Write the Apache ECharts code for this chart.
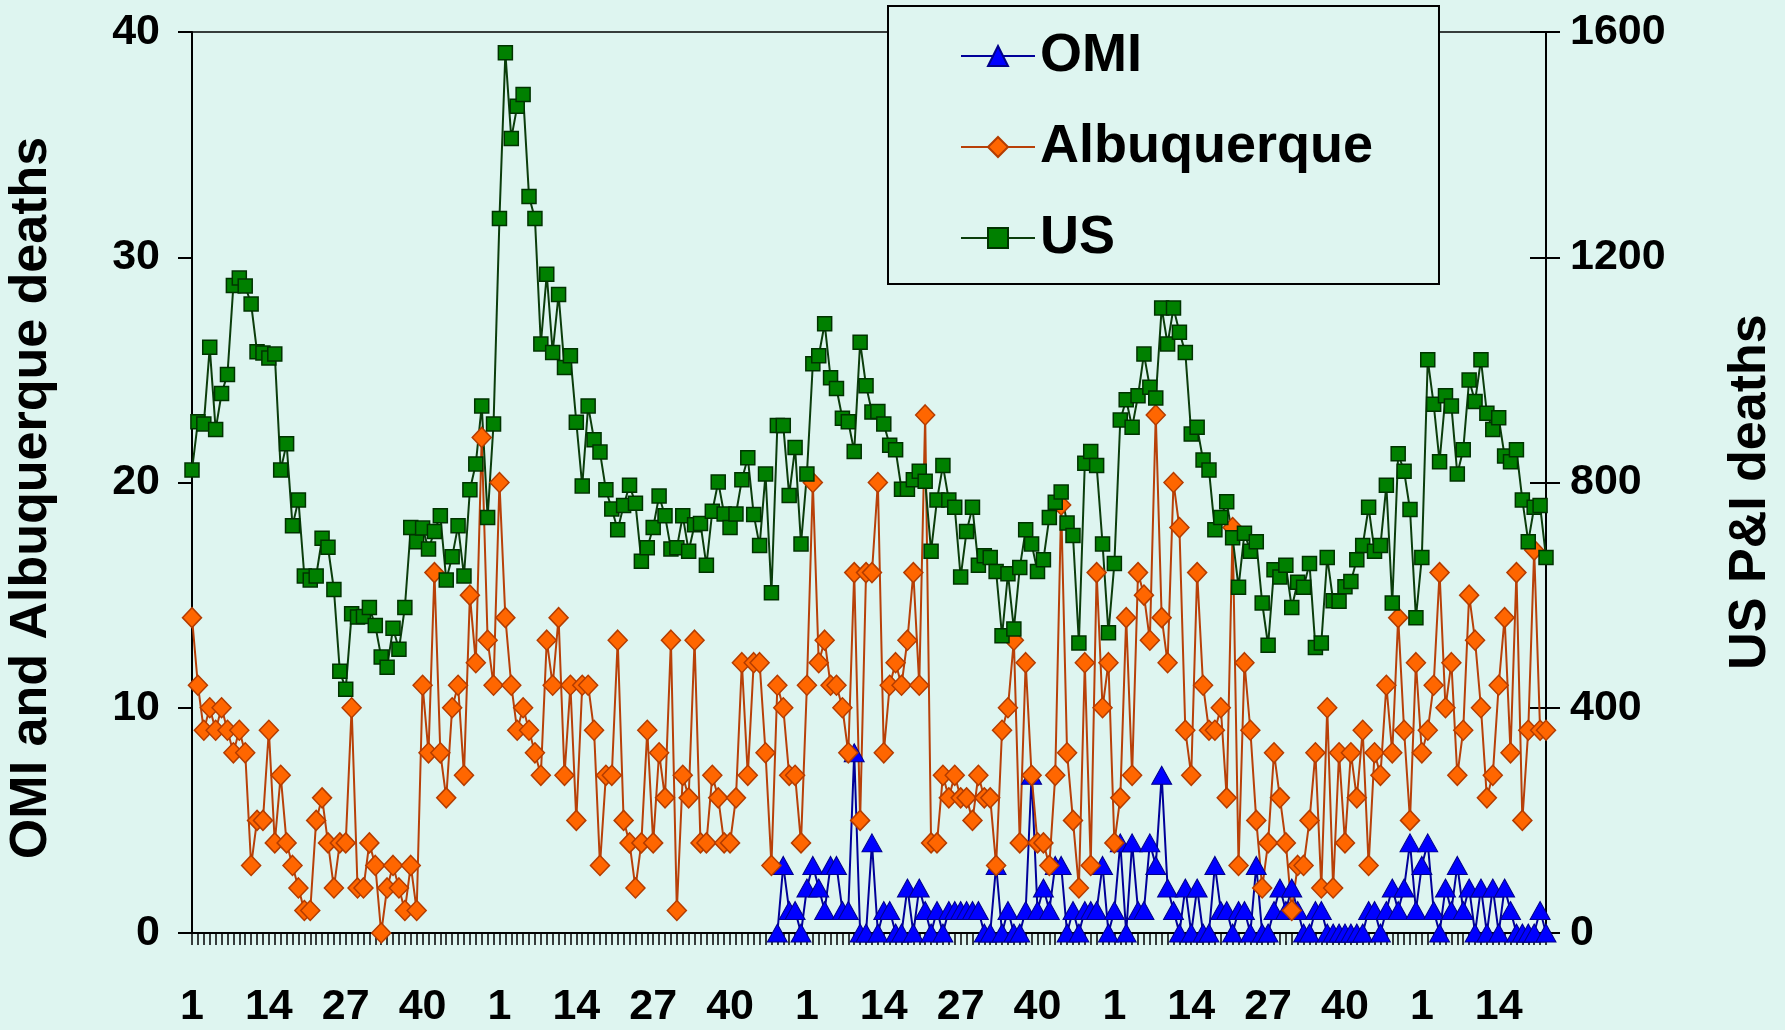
<!DOCTYPE html>
<html>
<head>
<meta charset="utf-8">
<title>OMI, Albuquerque and US P&amp;I deaths by week</title>
<script src="https://cdn.jsdelivr.net/npm/echarts/dist/echarts.min.js"></script>
<style>
  html, body { margin: 0; padding: 0; background: #def5f0; }
  #chart { width: 1785px; height: 1030px; }
</style>
</head>
<body>
<div id="chart"></div>
<script>
// Week-of-year labels: four full 52-week seasons followed by weeks 1-22.
const weekLabels = [
  1,2,3,4,5,6,7,8,9,10,11,12,13,14,15,16,17,18,19,20,21,22,23,24,25,26,27,28,29,30,31,32,33,34,35,36,37,38,39,40,41,42,43,44,45,46,47,48,49,50,51,52,
  1,2,3,4,5,6,7,8,9,10,11,12,13,14,15,16,17,18,19,20,21,22,23,24,25,26,27,28,29,30,31,32,33,34,35,36,37,38,39,40,41,42,43,44,45,46,47,48,49,50,51,52,
  1,2,3,4,5,6,7,8,9,10,11,12,13,14,15,16,17,18,19,20,21,22,23,24,25,26,27,28,29,30,31,32,33,34,35,36,37,38,39,40,41,42,43,44,45,46,47,48,49,50,51,52,
  1,2,3,4,5,6,7,8,9,10,11,12,13,14,15,16,17,18,19,20,21,22,23,24,25,26,27,28,29,30,31,32,33,34,35,36,37,38,39,40,41,42,43,44,45,46,47,48,49,50,51,52,
  1,2,3,4,5,6,7,8,9,10,11,12,13,14,15,16,17,18,19,20,21,22
].map(String);

// Weekly OMI deaths; reporting begins at the week with index omiFirstIndex.
const omiFirstIndex = 99;
const omiDeaths = [
  0,3,1,1,0,2,3,2,1,3,
  3,1,1,8,0,0,4,0,1,1,
  0,0,2,0,2,1,0,1,0,1,
  1,1,1,1,1,0,0,3,0,1,
  0,0,1,7,1,2,1,3,3,0,
  1,0,1,1,1,3,0,1,4,0,
  4,1,1,4,3,7,2,1,0,2,
  0,2,0,0,3,1,1,0,1,1,
  0,3,0,0,1,2,1,2,1,0,
  0,1,1,0,0,0,0,0,0,0,
  1,1,0,1,2,1,2,4,1,3,
  4,1,0,2,1,3,1,2,0,2,
  0,2,0,2,1,0,0,0,0,1,
  0
];

// Weekly Albuquerque P&I deaths.
const albuquerqueDeaths = [
  14,11,9,10,9,10,9,8,9,8,
  3,5,5,9,4,7,4,3,2,1,
  1,5,6,4,2,4,4,10,2,2,
  4,3,0,2,3,2,1,3,1,11,
  8,16,8,6,10,11,7,15,12,22,
  13,11,20,14,11,9,10,9,8,7,
  13,11,14,7,11,5,11,11,9,3,
  7,7,13,5,4,2,4,9,4,8,
  6,13,1,7,6,13,4,4,7,6,
  4,4,6,12,7,12,12,8,3,11,
  10,7,7,4,11,20,12,13,11,11,
  10,8,16,5,16,16,20,8,11,12,
  11,13,16,11,23,4,4,7,6,7,
  6,6,5,7,6,6,3,9,10,13,
  4,12,7,4,4,3,7,19,8,5,
  2,12,3,16,10,12,4,6,14,7,
  16,15,13,23,14,12,20,18,9,7,
  16,11,9,9,10,6,18,3,12,9,
  5,2,4,8,6,4,1,3,3,5,
  8,2,10,2,8,4,8,6,9,3,
  8,7,11,8,14,9,5,12,8,9,
  11,16,10,12,7,9,15,13,10,6,
  7,11,14,8,16,5,9,17,9,9
];

// Weekly US P&I deaths (right-hand axis).
const usDeaths = [
  822,908,904,1040,894,958,992,1150,1163,1149,
  1117,1032,1030,1021,1028,822,869,723,769,634,
  627,634,701,685,610,465,433,567,561,562,
  578,546,490,472,541,504,578,720,695,719,
  682,713,741,627,668,723,634,787,833,936,
  738,904,1269,1563,1411,1468,1489,1308,1269,1046,
  1170,1031,1134,1004,1025,907,794,936,876,854,
  787,753,716,759,795,763,660,684,720,776,
  741,682,684,741,678,725,727,653,749,801,
  744,720,744,805,844,743,688,815,604,901,
  901,777,862,691,815,1011,1025,1082,986,967,
  914,908,855,1049,972,925,926,904,866,858,
  788,788,805,820,802,678,769,830,769,756,
  632,713,756,653,670,667,642,528,638,540,
  649,716,691,642,663,738,765,783,728,706,
  515,834,855,830,691,533,656,911,947,898,
  954,1028,969,950,1110,1046,1110,1067,1031,886,
  898,840,822,716,738,766,702,614,710,678,
  695,586,511,645,632,653,578,623,614,656,
  507,515,667,590,589,615,624,663,688,756,
  678,688,795,586,851,820,752,560,667,1018,
  939,837,954,936,815,858,982,944,1018,923,
  894,915,847,837,858,769,695,756,759,667
];

const leftTicks = { min: 0, max: 40, interval: 10 };
const rightTicks = { min: 0, max: 1600, interval: 400 };

const FONT = '"Liberation Sans", Arial, Helvetica, sans-serif';
const BG = '#def5f0';

// OMI has no values before its first reporting week.
const omiSeriesData = weekLabels.map((_, i) =>
  i < omiFirstIndex ? null : omiDeaths[i - omiFirstIndex]);

const gridBox = { left: 192, right: 239, top: 32, bottom: 97 };
const axisLineStyle = { color: '#000', width: 2 };
const labelStyle = { fontSize: 43, fontWeight: 'bold', color: '#000', fontFamily: FONT };
const plainNumber = v => String(v);

const chart = echarts.init(document.getElementById('chart'), null, { renderer: 'canvas' });

chart.setOption({
  animation: false,
  backgroundColor: BG,
  textStyle: { fontFamily: FONT },
  grid: [
    Object.assign({ show: true, borderColor: '#000', borderWidth: 1.5, backgroundColor: 'transparent' }, gridBox),
    Object.assign({ show: false }, gridBox)
  ],
  legend: {
    orient: 'vertical',
    left: 888,
    top: 6,
    padding: [20, 66, 16, 72],
    itemGap: 31,
    itemWidth: 74,
    itemHeight: 25,
    backgroundColor: BG,
    borderColor: '#000',
    borderWidth: 2,
    borderRadius: 0,
    textStyle: { fontSize: 54, fontWeight: 'bold', color: '#000', fontFamily: FONT, lineHeight: 60 },
    data: ['OMI', 'Albuquerque', 'US']
  },
  xAxis: [
    {
      type: 'category',
      data: weekLabels,
      boundaryGap: false,
      axisLine: { lineStyle: axisLineStyle },
      axisTick: { show: true, interval: 0, length: 12, lineStyle: { color: '#000', width: 1.5 } },
      axisLabel: Object.assign({ interval: 12, margin: 53 }, labelStyle),
      splitLine: { show: false }
    },
    { type: 'category', data: weekLabels, boundaryGap: false, gridIndex: 1, show: false }
  ],
  yAxis: [
    {
      type: 'value',
      position: 'left',
      min: leftTicks.min, max: leftTicks.max, interval: leftTicks.interval,
      axisLine: { show: true, lineStyle: axisLineStyle },
      axisTick: { show: true, length: 14, lineStyle: { color: '#000', width: 2 } },
      axisLabel: Object.assign({ margin: 32, formatter: plainNumber }, labelStyle),
      splitLine: { show: false }
    },
    {
      type: 'value',
      position: 'right',
      min: rightTicks.min, max: rightTicks.max, interval: rightTicks.interval,
      axisLine: { show: true, lineStyle: axisLineStyle },
      axisTick: { show: true, length: 14, lineStyle: { color: '#000', width: 2 } },
      axisLabel: Object.assign({ margin: 24, formatter: plainNumber }, labelStyle),
      splitLine: { show: false }
    },
    {
      // inward half of the right-hand cross ticks
      type: 'value',
      gridIndex: 1,
      position: 'right',
      min: rightTicks.min, max: rightTicks.max, interval: rightTicks.interval,
      axisLine: { show: false },
      axisTick: { show: true, inside: true, length: 16, lineStyle: { color: '#000', width: 2 } },
      axisLabel: { show: false },
      splitLine: { show: false }
    }
  ],
  graphic: [
    {
      type: 'text', x: 32, y: 498, rotation: Math.PI / 2,
      style: {
        text: 'OMI and Albuquerque deaths', fill: '#000',
        font: 'bold 52px ' + FONT,
        textAlign: 'center', textVerticalAlign: 'middle', align: 'center', verticalAlign: 'middle'
      }
    },
    {
      type: 'text', x: 1751, y: 492, rotation: Math.PI / 2,
      style: {
        text: 'US P&I deaths', fill: '#000',
        font: 'bold 52px ' + FONT,
        textAlign: 'center', textVerticalAlign: 'middle', align: 'center', verticalAlign: 'middle'
      }
    }
  ],
  series: [
    {
      name: 'OMI',
      type: 'line',
      xAxisIndex: 0, yAxisIndex: 0,
      data: omiSeriesData,
      symbol: 'triangle',
      symbolSize: [20, 18],
      showAllSymbol: true,
      connectNulls: false,
      itemStyle: { color: '#0000ff', borderColor: '#00008b', borderWidth: 1 },
      lineStyle: { color: '#000099', width: 2 },
      emphasis: { disabled: true }
    },
    {
      name: 'Albuquerque',
      type: 'line',
      xAxisIndex: 0, yAxisIndex: 0,
      data: albuquerqueDeaths,
      symbol: 'diamond',
      symbolSize: [19, 20],
      showAllSymbol: true,
      itemStyle: { color: '#ff6600', borderColor: '#b33c00', borderWidth: 1.5 },
      lineStyle: { color: '#b84008', width: 2 },
      emphasis: { disabled: true }
    },
    {
      name: 'US',
      type: 'line',
      xAxisIndex: 0, yAxisIndex: 1,
      data: usDeaths,
      symbol: 'rect',
      symbolSize: 14,
      showAllSymbol: true,
      itemStyle: { color: '#008000', borderColor: '#003300', borderWidth: 1.5 },
      lineStyle: { color: '#0b3d0b', width: 2 },
      emphasis: { disabled: true }
    }
  ]
});
</script>
</body>
</html>
